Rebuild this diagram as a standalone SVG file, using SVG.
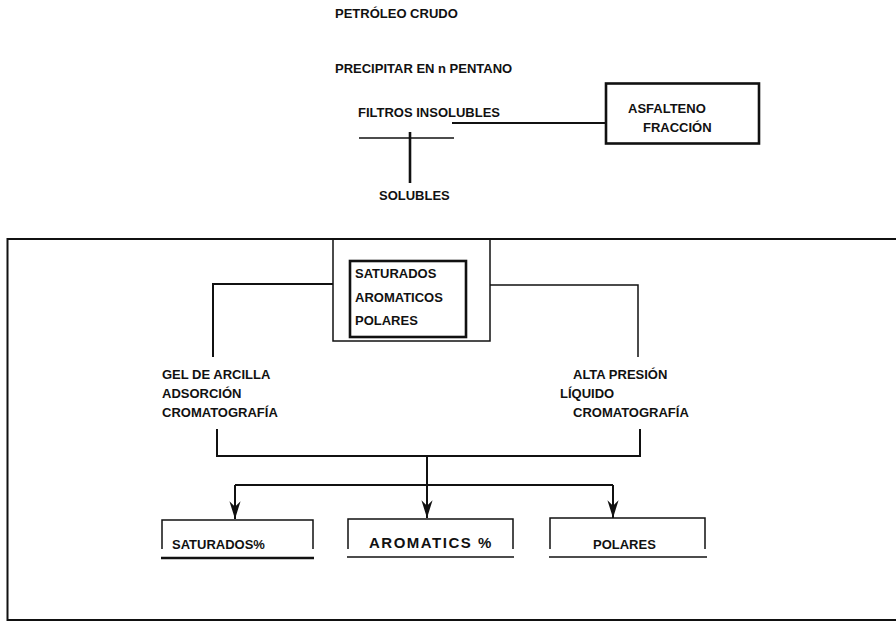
<svg xmlns="http://www.w3.org/2000/svg" width="896" height="621" viewBox="0 0 896 621">
<style>
text{font-family:"Liberation Sans",Arial,sans-serif;font-weight:bold;font-size:13px;fill:#111}
.ln{stroke:#111;fill:none;stroke-width:2}
.thin{stroke:#111;fill:none;stroke-width:1.5}
.thick{stroke:#111;fill:none;stroke-width:2.6}
.wide{font-size:15px;letter-spacing:1.5px}
</style>
<defs>
<marker id="arr" markerUnits="userSpaceOnUse" markerWidth="20" markerHeight="20" viewBox="-16 -8 18 16" refX="0" refY="0" orient="auto">
<path d="M0,0 L-16,-5 L-11,0 L-16,5 Z" fill="#111"/>
</marker>
</defs>
<rect x="7.5" y="239" width="900" height="381" class="ln"/>
<g id="petroleo"><text x="335" y="18">PETRÓLEO CRUDO</text></g>
<g id="precipitar"><text x="335" y="73">PRECIPITAR EN n PENTANO</text></g>
<g id="filtros"><text x="358" y="117">FILTROS INSOLUBLES</text></g>
<g id="asfalteno"><rect x="606" y="83.5" width="153" height="60" class="thick"/><text x="628" y="113">ASFALTENO</text><text x="643" y="132">FRACCIÓN</text></g>
<g id="solubles"><text x="379" y="200">SOLUBLES</text></g>
<g id="fracciones"><rect x="333" y="239" width="157" height="102" class="thin"/><rect x="350" y="261" width="116" height="76" class="thick"/><text x="355" y="278">SATURADOS</text><text x="355" y="302">AROMATICOS</text><text x="355" y="325">POLARES</text></g>
<g id="gel"><text x="162" y="379">GEL DE ARCILLA</text><text x="162" y="398">ADSORCIÓN</text><text x="162" y="417">CROMATOGRAFÍA</text></g>
<g id="alta"><text x="573" y="379">ALTA PRESIÓN</text><text x="560" y="398">LÍQUIDO</text><text x="573" y="417">CROMATOGRAFÍA</text></g>
<g id="saturados"><path d="M162,549 V520 H313 V549" class="thin"/><line x1="161" y1="558" x2="314" y2="558" class="thick"/><text x="172" y="549">SATURADOS%</text></g>
<g id="aromatics"><path d="M348,549 V519 H513 V549" class="thin"/><line x1="347" y1="557" x2="514" y2="557" class="thin"/><text x="369" y="548" class="wide">AROMATICS %</text></g>
<g id="polares"><path d="M550,549 V518 H705 V549" class="thin"/><line x1="549" y1="557" x2="707" y2="557" class="thin"/><text x="593" y="549">POLARES</text></g>
<g id="connectors">
<line x1="452" y1="123" x2="606" y2="123" class="ln"/>
<line x1="359" y1="138" x2="454" y2="138" class="thin"/>
<line x1="410" y1="132" x2="410" y2="183" class="thick"/>
<path d="M213,357 V284 H333" class="ln"/>
<path d="M490,285 H638 V357" class="thin"/>
<path d="M217,429 V456 H640 V429" class="ln"/>
<line x1="427" y1="456" x2="427" y2="518" class="ln" marker-end="url(#arr)"/>
<line x1="235" y1="485" x2="613" y2="485" class="ln"/>
<line x1="235" y1="485" x2="235" y2="519" class="ln" marker-end="url(#arr)"/>
<line x1="613" y1="485" x2="613" y2="518" class="ln" marker-end="url(#arr)"/>
</g>
</svg>
